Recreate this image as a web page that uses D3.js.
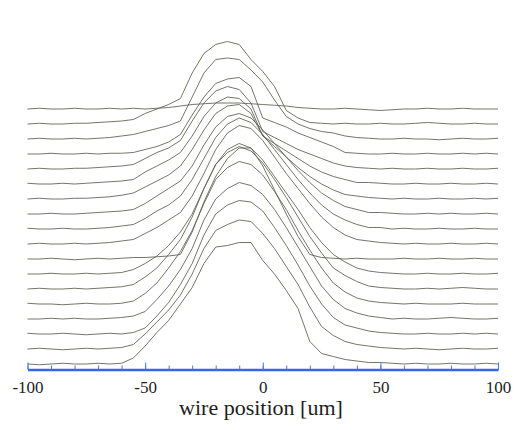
<!DOCTYPE html>
<html>
<head>
<meta charset="utf-8">
<script src="https://cdn.jsdelivr.net/npm/d3@7"></script>
<style>
  body { margin: 0; background: #ffffff; }
  svg { display: block; }
</style>
</head>
<body>
<svg id="chart" width="524" height="430"></svg>
<script>
// Wire positions (um) at which each scan was sampled
const positions = [-100,-95,-90,-85,-80,-75,-70,-65,-60,-55,-50,-45,-40,-35,-30,-25,-20,-15,-10,-5,
  0,5,10,15,20,25,30,35,40,45,50,55,60,65,70,75,80,85,90,95,100];

// Vertical offset of each scan in the stack (bottom scan first)
const scanOffsets = [0,10,20,30,40,50,60,70,80,90,100,110,120,130,140,150,160,170];

// Signal of each scan above its own baseline, bottom scan first
const scan00 = [0,-0.5,0,0.5,0,0,0.5,0,0.5, 4,12,21,29,40,51,67,78,79,81,81,69,60,49,37,15,7,5,3,2,1,1, 0.5,0,0.5,0,0,0.5,0,0,0.5,0];
const scan01 = [0,0.5,0,-0.5,0,0.5,0,0.5,1, 3,10,18,26,36,50,67,79,83,86,85,77,67,55,43,28,15,9,5,3,2,1, 0.5,0,0.5,0,-0.5,0,0.5,0,0,0.5];
const scan02 = [0.5,0,0,0.5,0,-0.5,0,0.5,0, 1,4,12,21,33,47,66,80,86,89,88,82,71,59,46,32,20,11,6,4,2,1, 0.5,0,0,0.5,0,0,0.5,0,0.5,0];
const scan03 = [0,0,0.5,0,0.5,0,0,0.5,1, 2,5,13,22,33,47,66,80,87,91,89,83,73,61,48,35,22,13,7,4,2,1, 0,0.5,0,0,0.5,1,0.5,0,0,0.5];
const scan04 = [0.5,0,0,-0.5,0,0.5,0,0,0.5, 2,7,14,24,35,49,67,83,91,95,93,86,75,63,49,36,24,14,8,4,2,1, 0.5,0,0.5,0,0,0,0.5,0,0,0];
const scan05 = [0,0.5,0,0,0.5,0,0.5,1,1.5, 3,8,14,23,33,48,67,83,91,95,92,84,73,61,48,35,24,14,9,5,2,1, 0.5,0,0,0.5,0,0.5,1,0.5,0,0];
const scan06 = [0,0,0.5,0,0,0.5,0,0.5,1, 3,7,12,19,28,40,57,73,83,87,84,76,65,54,43,31,21,13,8,4,2,1, 0.5,0,0,0.5,0,0,0.5,0,0,0.5];
const scan07 = [0,0,0.5,0,-0.5,0,0.5,0,0.5, 1,1,1.5,2,3,18,38,55,67,74,74,62,46,30,15,3,1,0.5,0,0.5,0,0, 0,0.5,0,0,0.5,0,0,0.5,0,0];
const scan08 = [0,0.5,0,0,0.5,0,0.5,1,2, 3,7,11,16,21,32,47,63,74,79,77,69,58,47,37,27,18,11,6,3,2,1, 0.5,0,0.5,0,0,0.5,0,0,0.5,0];
const scan09 = [0.5,0,0,0.5,0,0,0.5,1,2, 3,7,12,16,22,33,47,61,70,74,71,63,53,43,33,24,16,10,6,3,1,1, 0,0.5,0,0,0.5,0,0,0.5,0,0];
const scan10 = [0,0,0.5,0,0,0.5,1,1.5,2, 3,7,12,17,22,32,46,58,65,67,64,56,47,38,29,21,14,9,5,3,1,1, 0.5,0,0,0.5,0,0.5,0,0,0.5,0];
const scan11 = [0,0.5,0,0,0.5,0.5,1,1.5,2.5, 4,8,12,16,22,33,46,57,62,63,57,42,35,28,21,15,10,6,3,2,1,0.5, 0,0.5,0,0,0.5,0,0,0.5,0,0.5];
const scan12 = [0.5,0,0,0.5,0,0.5,1,1.5,2, 3,8,12,16,21,32,45,54,58,57,50,32,27,22,17,12,8,5,3,1,1,0.5, 0,0,0.5,0,0,0.5,0,0,0.5,0];
const scan13 = [0,0.5,0,0,0.5,0.5,1,1.5,2, 3,7,11,14,19,32,44,52,55,53,44,25,21,17,13,10,7,4,2,1,0.5,0, 0.5,0,0,0.5,0,0,0.5,0,0,0.5];
const scan14 = [0,0,0.5,0,0,0.5,0,0.5,0.5, 1,3,5,8,13,26,38,47,50,51,45,24,21,18,14,11,8,5,1,0.5,0,0, 0.5,0,0,0.5,0,0,0.5,0,0.5,0];
const scan15 = [0,0.5,0,0,0.5,0,0.5,1,2, 3,5,7,9,12,28,44,53,54,53,46,38,26,15,10,7,5,4,2,1,0.5,0, 0,0.5,0,0,-0.5,0,0.5,0,0,0.5];
const scan16 = [0,0.5,0,0,0.5,0.5,1,1.5,2, 3,7,10,13,17,34,47,53,55,53,43,35,25,9,4,1,0.5,0,0.5,0,0,0.5, 0,0,0.5,1,0.5,0,0,0.5,0,0];
const scan17 = [0,0.5,0,0,0.5,0,0,0.5,0, 0.5,0,0.5,1,2,3,3.5,4,4,4,3.5,3,2.5,2,1,0.5,0,0,0.5,0,-0.5,-1, -0.5,0,0,0.5,0,0,0.5,0,0,0];

const scans = [scan00,scan01,scan02,scan03,scan04,scan05,scan06,scan07,scan08,
  scan09,scan10,scan11,scan12,scan13,scan14,scan15,scan16,scan17];

// Axis ticks and labels
const minorTickValues = [-100,-90,-80,-70,-60,-50,-40,-30,-20,-10,0,10,20,30,40,50,60,70,80,90,100];
const majorTickValues = [-100,-50,0,50,100];
const majorTickLabels = ["-100","-50","0","50","100"];
const xTitle = "wire position [um]";

const svg = d3.select("#chart");

const x = d3.scaleLinear().domain([-100, 100]).range([27.5, 498]);
const y = d3.scaleLinear().domain([0, 170]).range([364, 109]);

// Stacked scan profiles
const traces = svg.append("g").attr("class", "traces");
scans.forEach((scan, s) => {
  const off = scanOffsets[s];
  const line = d3.line()
    .x((d, i) => x(positions[i]))
    .y(d => y(off + d));
  traces.append("path")
    .datum(scan)
    .attr("d", line)
    .attr("fill", "none")
    .attr("stroke", "#5c5e4e")
    .attr("stroke-width", 1)
    .attr("stroke-opacity", 0.85)
    .attr("stroke-linejoin", "round");
});

// Bottom axis: blue baseline with inward ticks
const axisY = 369.5;
const minorAxis = d3.axisBottom(x)
  .tickValues(minorTickValues)
  .tickSizeInner(-4)
  .tickSizeOuter(0)
  .tickFormat("");
const gMinor = svg.append("g").attr("transform", `translate(0,${axisY})`).call(minorAxis);
gMinor.select(".domain").attr("stroke", "#3468e4").attr("stroke-width", 2.5);
gMinor.selectAll(".tick line").attr("stroke", "#4478e8").attr("stroke-width", 1);

const majorAxis = d3.axisBottom(x)
  .tickValues(majorTickValues)
  .tickSizeInner(-7)
  .tickSizeOuter(0)
  .tickPadding(11)
  .tickFormat((d, i) => majorTickLabels[i]);
const gMajor = svg.append("g").attr("transform", `translate(0,${axisY})`).call(majorAxis);
gMajor.select(".domain").remove();
gMajor.selectAll(".tick line").attr("stroke", "#4478e8").attr("stroke-width", 1);
gMajor.selectAll(".tick text")
  .attr("fill", "#1e1e1e")
  .style("font-family", "'Liberation Serif', 'Times New Roman', serif")
  .style("font-size", "17px");

svg.append("text")
  .attr("x", 261)
  .attr("y", 415)
  .attr("text-anchor", "middle")
  .attr("fill", "#1e1e1e")
  .style("font-family", "'Liberation Serif', 'Times New Roman', serif")
  .style("font-size", "22px")
  .text(xTitle);
</script>
</body>
</html>
